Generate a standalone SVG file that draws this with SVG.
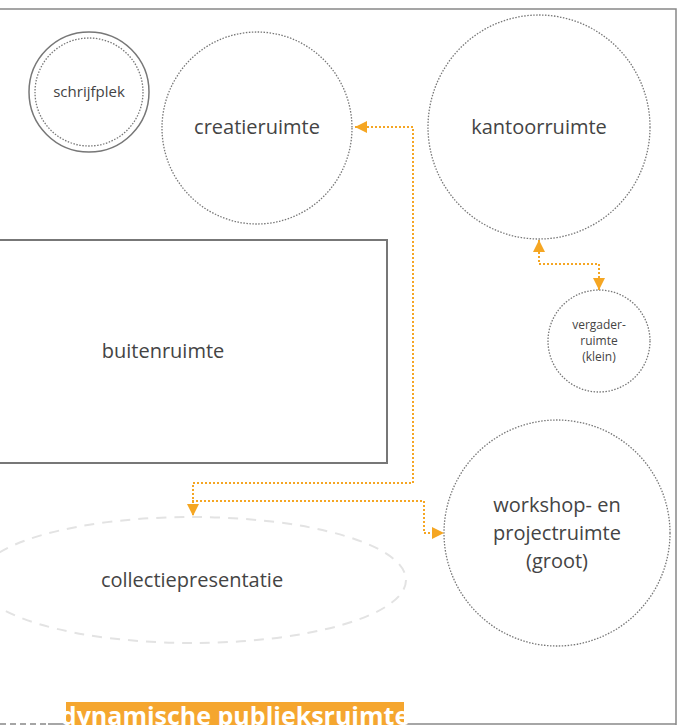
<svg xmlns="http://www.w3.org/2000/svg" width="679" height="725" viewBox="0 0 679 725">
<defs>
<style>
.lbl{font-family:"Open Sans","Liberation Sans",sans-serif;fill:#444;text-anchor:middle}
.dot{fill:none;stroke:#777;stroke-width:1.3;stroke-dasharray:1.5 1.5}
.con{fill:none;stroke:#f5a623;stroke-width:2;stroke-dasharray:2 2}
.frame{fill:none;stroke:#888;stroke-width:1.5}
</style>
<marker id="ah" viewBox="0 0 10 10" refX="10" refY="5" markerWidth="6" markerHeight="6" orient="auto-start-reverse" markerUnits="strokeWidth">
<path d="M0,0 L10,5 L0,10 z" fill="#f5a623"/>
</marker>
</defs>
<rect width="679" height="725" fill="#fff"/>
<g id="frame">
<path class="frame" d="M0,9 H676 V725"/>
<path class="frame" d="M48,724 H676"/>
<path d="M0,724 H46" fill="none" stroke="#888" stroke-width="1.5" stroke-dasharray="6 4"/>
</g>
<g id="buitenruimte">
<rect x="-10" y="240" width="397" height="223" fill="none" stroke="#777" stroke-width="2"/>
<text class="lbl" x="163" y="358" font-size="20">buitenruimte</text>
</g>
<g id="collectiepresentatie">
<ellipse cx="192" cy="580" rx="214" ry="63" fill="none" stroke="#e3e3e3" stroke-width="2" stroke-dasharray="10 8"/>
<text class="lbl" x="192" y="587" font-size="20">collectiepresentatie</text>
</g>
<g id="schrijfplek">
<circle cx="89" cy="92" r="60" fill="none" stroke="#777" stroke-width="1.5"/>
<circle cx="89" cy="92" r="54" class="dot"/>
<text class="lbl" x="89" y="97" font-size="15">schrijfplek</text>
</g>
<g id="creatieruimte">
<ellipse cx="257" cy="128" rx="95" ry="96" class="dot"/>
<text class="lbl" x="257" y="134" font-size="20">creatieruimte</text>
</g>
<g id="kantoorruimte">
<ellipse cx="539" cy="127" rx="111" ry="112" class="dot"/>
<text class="lbl" x="539" y="134" font-size="20">kantoorruimte</text>
</g>
<g id="vergaderruimte">
<circle cx="599" cy="341" r="51" class="dot"/>
<text class="lbl" x="599" font-size="12"><tspan x="599" y="329">vergader-</tspan><tspan x="599" y="345">ruimte</tspan><tspan x="599" y="361">(klein)</tspan></text>
</g>
<g id="workshop">
<circle cx="557" cy="533" r="113" class="dot"/>
<text class="lbl" font-size="20"><tspan x="557" y="512">workshop- en</tspan><tspan x="557" y="540">projectruimte</tspan><tspan x="557" y="568">(groot)</tspan></text>
</g>
<g id="connectors">
<path class="con" d="M355,127 H413 V483 H193 V516" marker-start="url(#ah)" marker-end="url(#ah)"/>
<path class="con" d="M193,510 V501 H424 V533 H444" marker-end="url(#ah)"/>
<path class="con" d="M539,240 V264 H599 V290" marker-start="url(#ah)" marker-end="url(#ah)"/>
</g>
<g id="label">
<rect x="66" y="702" width="338" height="30" fill="#f5a62f"/>
<text x="235" y="725" font-family="'Open Sans','Liberation Sans',sans-serif" font-weight="bold" font-size="25" fill="#fff" text-anchor="middle">dynamische publieksruimte</text>
</g>
</svg>
